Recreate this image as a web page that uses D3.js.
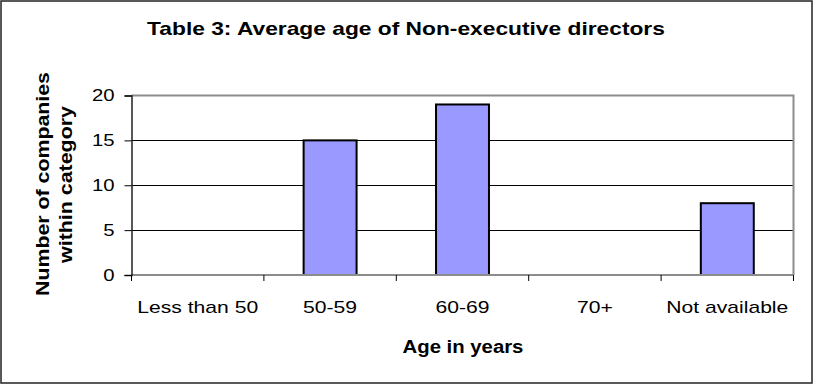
<!DOCTYPE html>
<html>
<head>
<meta charset="utf-8">
<script src="https://cdn.jsdelivr.net/npm/d3@7"></script>
<style>
  html, body { margin: 0; padding: 0; background: #fff; }
  svg { display: block; font-family: "Liberation Sans", Arial, sans-serif; }
</style>
</head>
<body>
<svg id="chart" width="814" height="385"></svg>
<script>
// Age bands and the number of companies in each
const categories = ["Less than 50", "50-59", "60-69", "70+", "Not available"];
const counts = [0, 15, 19, 0, 8];
const yTicks = [0, 5, 10, 15, 20];

const titleText = "Table 3: Average age of Non-executive directors";
const xTitle = "Age in years";
const yTitleLines = ["Number of companies", "within category"];

const svg = d3.select("#chart");
const W = 814, H = 385;

// Place a label at (cx, cy) with glyphs stretched along the baseline to a target width
function wideText(parent, str, cx, cy, opts) {
  const t = parent.append("text")
    .attr("x", 0).attr("y", 0)
    .attr("text-anchor", opts.anchor || "middle")
    .attr("font-size", opts.size)
    .attr("font-weight", opts.weight || "normal")
    .attr("fill", "#000")
    .text(str);
  const natural = t.node().getComputedTextLength();
  const sx = opts.width ? opts.width / natural : (opts.factor || 1);
  t.attr("transform", `translate(${cx},${cy}) rotate(${opts.rotate || 0}) scale(${sx},1)`);
  return t;
}

// Outer frame
svg.append("rect")
  .attr("x", 1).attr("y", 1).attr("width", W - 3).attr("height", H - 3)
  .attr("fill", "#fff").attr("stroke", "#222").attr("stroke-width", 1.5);

const plot = { left: 131.5, right: 793.5, top: 95.5, bottom: 275 };

const x = d3.scaleBand()
  .domain(categories)
  .range([plot.left, plot.right])
  .paddingInner(0.6)
  .paddingOuter(0.3);

const xBand = d3.scaleBand()
  .domain(categories)
  .range([plot.left, plot.right]);

const y = d3.scaleLinear().domain([0, 20]).range([plot.bottom, plot.top]);

// Horizontal gridlines
svg.append("g")
  .selectAll("line")
  .data(yTicks.filter(t => t > 0 && t < 20))
  .join("line")
  .attr("x1", plot.left).attr("x2", plot.right)
  .attr("y1", d => Math.round(y(d)) + 0.5).attr("y2", d => Math.round(y(d)) + 0.5)
  .attr("stroke", "#000").attr("stroke-width", 1);

// Plot area border (top and right)
svg.append("path")
  .attr("d", `M${plot.left},${y(20)}H${plot.right}V${plot.bottom}`)
  .attr("fill", "none").attr("stroke", "#8c8c8c").attr("stroke-width", 2);

// Bars
svg.append("g")
  .selectAll("rect")
  .data(counts.map((v, i) => ({ c: categories[i], v })).filter(d => d.v > 0))
  .join("rect")
  .attr("x", d => x(d.c))
  .attr("y", d => y(d.v))
  .attr("width", x.bandwidth())
  .attr("height", d => y(0) - y(d.v))
  .attr("fill", "#9999ff")
  .attr("stroke", "#000")
  .attr("stroke-width", 2);

// X axis baseline
svg.append("line")
  .attr("x1", plot.left).attr("x2", plot.right)
  .attr("y1", plot.bottom).attr("y2", plot.bottom)
  .attr("stroke", "#8c8c8c").attr("stroke-width", 2);

// X tick marks at category boundaries
const boundaries = categories.map(c => xBand(c)).concat([plot.right]);
svg.append("g")
  .selectAll("line")
  .data(boundaries)
  .join("line")
  .attr("x1", d => d).attr("x2", d => d)
  .attr("y1", plot.bottom).attr("y2", plot.bottom + 6)
  .attr("stroke", "#000").attr("stroke-width", 1);

// X tick labels
const gx = svg.append("g");
categories.forEach(c => {
  wideText(gx, c, xBand(c) + xBand.bandwidth() / 2, 312.5, { size: 16, factor: 1.32 });
});

// Y axis (line and ticks from d3.axisLeft, labels drawn stretched)
const yAxis = d3.axisLeft(y).tickValues(yTicks).tickSize(7).tickFormat("");
const gy = svg.append("g")
  .attr("transform", `translate(${plot.left},0)`)
  .call(yAxis);
gy.select(".domain").attr("stroke", "#222").attr("stroke-width", 1.5);
gy.selectAll(".tick line").attr("stroke", "#000");
const gyl = svg.append("g");
yTicks.forEach(v => {
  wideText(gyl, String(v), plot.left - 17, y(v) + 5.5, { size: 16, factor: 1.27, anchor: "end" });
});

// Title
wideText(svg, titleText, 406, 35, { size: 18, weight: "bold", width: 518 });

// X axis title
wideText(svg, xTitle, 463, 352.5, { size: 18, weight: "bold", width: 121 });

// Y axis title (two lines, rotated)
wideText(svg, yTitleLines[0], 48.5, 184, { size: 18, weight: "bold", width: 224, rotate: -90 });
wideText(svg, yTitleLines[1], 72, 184.5, { size: 18, weight: "bold", width: 157, rotate: -90 });
</script>
</body>
</html>
